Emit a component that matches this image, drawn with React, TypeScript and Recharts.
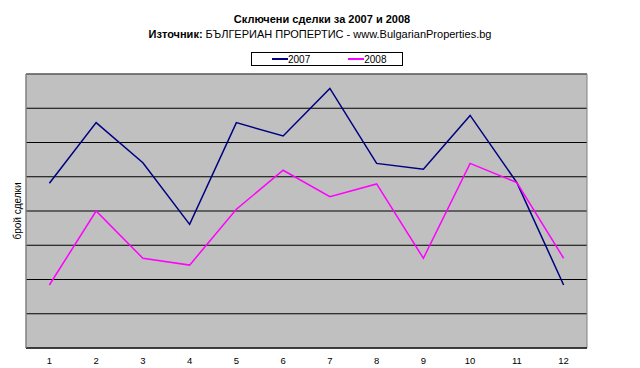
import { LineChart, Line, XAxis, YAxis, CartesianGrid, Legend, ReferenceArea } from 'recharts';

const months = [1, 2, 3, 4, 5, 6, 7, 8, 9, 10, 11, 12];
const deals2007 = [481, 658, 541, 361, 658, 619, 758, 539, 522, 679, 483, 184];
const deals2008 = [184, 400, 262, 242, 405, 519, 442, 479, 262, 539, 483, 262];
const yTicks = [0, 100, 200, 300, 400, 500, 600, 700, 800];
const boundaryTicks = [0.5, 1.5, 2.5, 3.5, 4.5, 5.5, 6.5, 7.5, 8.5, 9.5, 10.5, 11.5, 12.5];

const data = months.map((m, i) => ({ month: m, y2007: deals2007[i], y2008: deals2008[i] }));

const font = '"Liberation Sans", Arial, sans-serif';
const blank = () => '';

const LegendBox = ({ payload }: any) => (
  <div
    style={{
      boxSizing: 'border-box',
      width: 152,
      height: 14,
      border: '1px solid #000',
      background: '#fff',
      display: 'flex',
      alignItems: 'center',
      fontFamily: font,
      fontSize: 10,
      color: '#000',
    }}
  >
    {(payload || []).map((p: any, i: number) => (
      <div key={p.value} style={{ display: 'flex', alignItems: 'center', marginLeft: i === 0 ? 20 : 38 }}>
        <span style={{ display: 'inline-block', width: 16, height: 2, background: p.color }} />
        <span>{p.value}</span>
      </div>
    ))}
  </div>
);

export default function App() {
  return (
    <div style={{ position: 'absolute', left: 0, top: 0, width: 640, height: 368, background: '#fff', fontFamily: font }}>
      <div style={{ position: 'absolute', left: 0, top: 13, width: 640, textAlign: 'center', fontSize: 11, fontWeight: 'bold', color: '#000', paddingLeft: 2 }}>
        Сключени сделки за 2007 и 2008
      </div>
      <div style={{ position: 'absolute', left: 0, top: 28, width: 640, textAlign: 'center', fontSize: 11, color: '#000' }}>
        <b>Източник:</b> БЪЛГЕРИАН ПРОПЕРТИС - www.BulgarianProperties.bg
      </div>
      <LineChart width={640} height={368} data={data} margin={{ top: 74, right: 53, left: 0, bottom: 0 }}>
        <CartesianGrid xAxisId="main" vertical={false} stroke="#000" fill="#c0c0c0" fillOpacity={1} />
        <ReferenceArea xAxisId="main" x1={0.5} x2={12.5} y1={0} y2={800} fill="none" stroke="#808080" strokeWidth={1} ifOverflow="visible" />
        <XAxis
          xAxisId="edges"
          dataKey="month"
          type="number"
          domain={[0.5, 12.5]}
          ticks={boundaryTicks}
          height={0}
          tickSize={4}
          tickFormatter={blank}
          tickLine={{ stroke: '#404040' }}
          axisLine={false}
        />
        <XAxis
          xAxisId="main"
          dataKey="month"
          type="number"
          domain={[0.5, 12.5]}
          ticks={months}
          height={20}
          tickSize={0}
          tickMargin={9}
          tickLine={false}
          axisLine={{ stroke: '#000' }}
          tick={{ fill: '#000', fontSize: 9.5, fontFamily: font }}
        />
        <YAxis
          domain={[0, 800]}
          ticks={yTicks}
          width={26}
          tickFormatter={blank}
          tickLine={false}
          axisLine={{ stroke: '#808080' }}
          label={{
            value: 'брой сделки',
            angle: -90,
            position: 'insideLeft',
            offset: 17,
            style: { textAnchor: 'middle', fontSize: 10, fontFamily: font, fill: '#000' },
          }}
        />
        <Legend
          verticalAlign="middle"
          align="center"
          content={<LegendBox />}
          wrapperStyle={{ top: 52, left: 251, width: 152, height: 14 }}
        />
        <Line xAxisId="main" dataKey="y2007" name="2007" stroke="#000080" strokeWidth={1.5} dot={false} isAnimationActive={false} />
        <Line xAxisId="main" dataKey="y2008" name="2008" stroke="#ff00ff" strokeWidth={1.5} dot={false} isAnimationActive={false} />
      </LineChart>
    </div>
  );
}
